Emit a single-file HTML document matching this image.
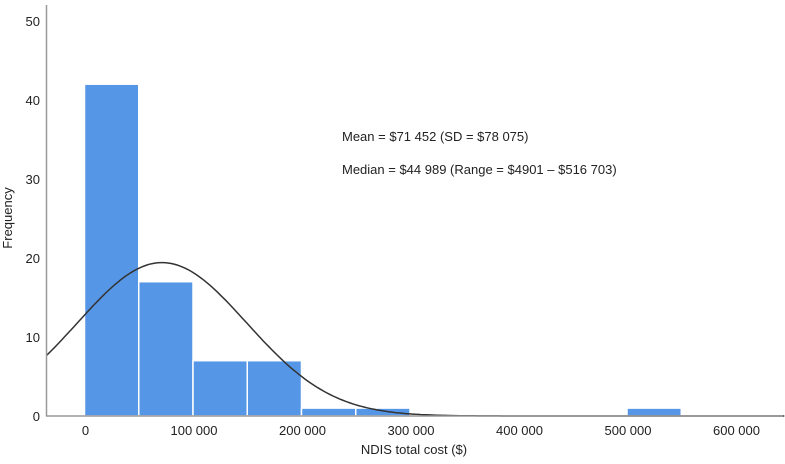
<!DOCTYPE html>
<html><head><meta charset="utf-8"><style>
body{margin:0;background:#fff;font-family:"Liberation Sans",sans-serif}
svg text{font-family:"Liberation Sans",sans-serif;fill:#222}
</style></head><body>
<svg id="c" width="785" height="459">
<g id="bars"></g>
<path id="curve" fill="none" stroke="#333" stroke-width="1.5"></path>
<line x1="46.5" y1="5" x2="46.5" y2="416" stroke="#999" stroke-width="1.5"/>
<line x1="46" y1="416" x2="783" y2="416" stroke="#999" stroke-width="1.5"/>
<g id="yt"></g>
<g id="xt"></g>
<text x="12" y="218" font-size="13" text-anchor="middle" transform="rotate(-90 12 218)">Frequency</text>
<text x="414" y="454" font-size="13" text-anchor="middle">NDIS total cost ($)</text>
<text x="342" y="141" font-size="13">Mean = $71 452 (SD = $78 075)</text>
<text x="342" y="174" font-size="13">Median = $44 989 (Range = $4901 – $516 703)</text>
</svg>
<script>
const binStarts=[0,50000,100000,150000,200000,250000,500000];
const counts=[42,17,7,7,1,1,1];
const binWidth=50000;
const yTicks=[0,10,20,30,40,50];
const xTicks=[0,100000,200000,300000,400000,500000,600000];
const xTickLabels=["0","100 000","200 000","300 000","400 000","500 000","600 000"];
const mean=71452, sd=78075;
const NS="http://www.w3.org/2000/svg";
const x=v=>84.5+v*0.001085;
const y=v=>416-v*7.9;
const bars=document.getElementById('bars');
binStarts.forEach((b,i)=>{
 const r=document.createElementNS(NS,'rect');
 r.setAttribute('x',x(b));r.setAttribute('width',x(b+binWidth)-x(b));
 r.setAttribute('y',y(counts[i]));r.setAttribute('height',y(0)-y(counts[i]));
 r.setAttribute('fill','#5596e6');r.setAttribute('stroke','#fff');r.setAttribute('stroke-width','1.5');
 
 
 bars.appendChild(r);
});
const N=counts.reduce((a,c)=>a+c,0);
let d='';
for(let v=-35000;v<=645000;v+=2500){
 const f=N*binWidth/(sd*Math.sqrt(2*Math.PI))*Math.exp(-0.5*((v-mean)/sd)**2);
 d+=(d?'L':'M')+x(v).toFixed(1)+','+y(f).toFixed(1);
}
document.getElementById('curve').setAttribute('d',d);
const yt=document.getElementById('yt');
yTicks.forEach(t=>{
 const e=document.createElementNS(NS,'text');
 e.setAttribute('x',40);e.setAttribute('y',y(t)+5);e.setAttribute('text-anchor','end');e.setAttribute('font-size','13');
 e.textContent=t;
 
 
 yt.appendChild(e);
});
const xt=document.getElementById('xt');
xTicks.forEach((t,i)=>{
 const e=document.createElementNS(NS,'text');
 e.setAttribute('x',x(t)+1);e.setAttribute('y',435);e.setAttribute('text-anchor','middle');e.setAttribute('font-size','13');
 e.textContent=xTickLabels[i];
 
 
 xt.appendChild(e);
});
</script>
</body></html>
